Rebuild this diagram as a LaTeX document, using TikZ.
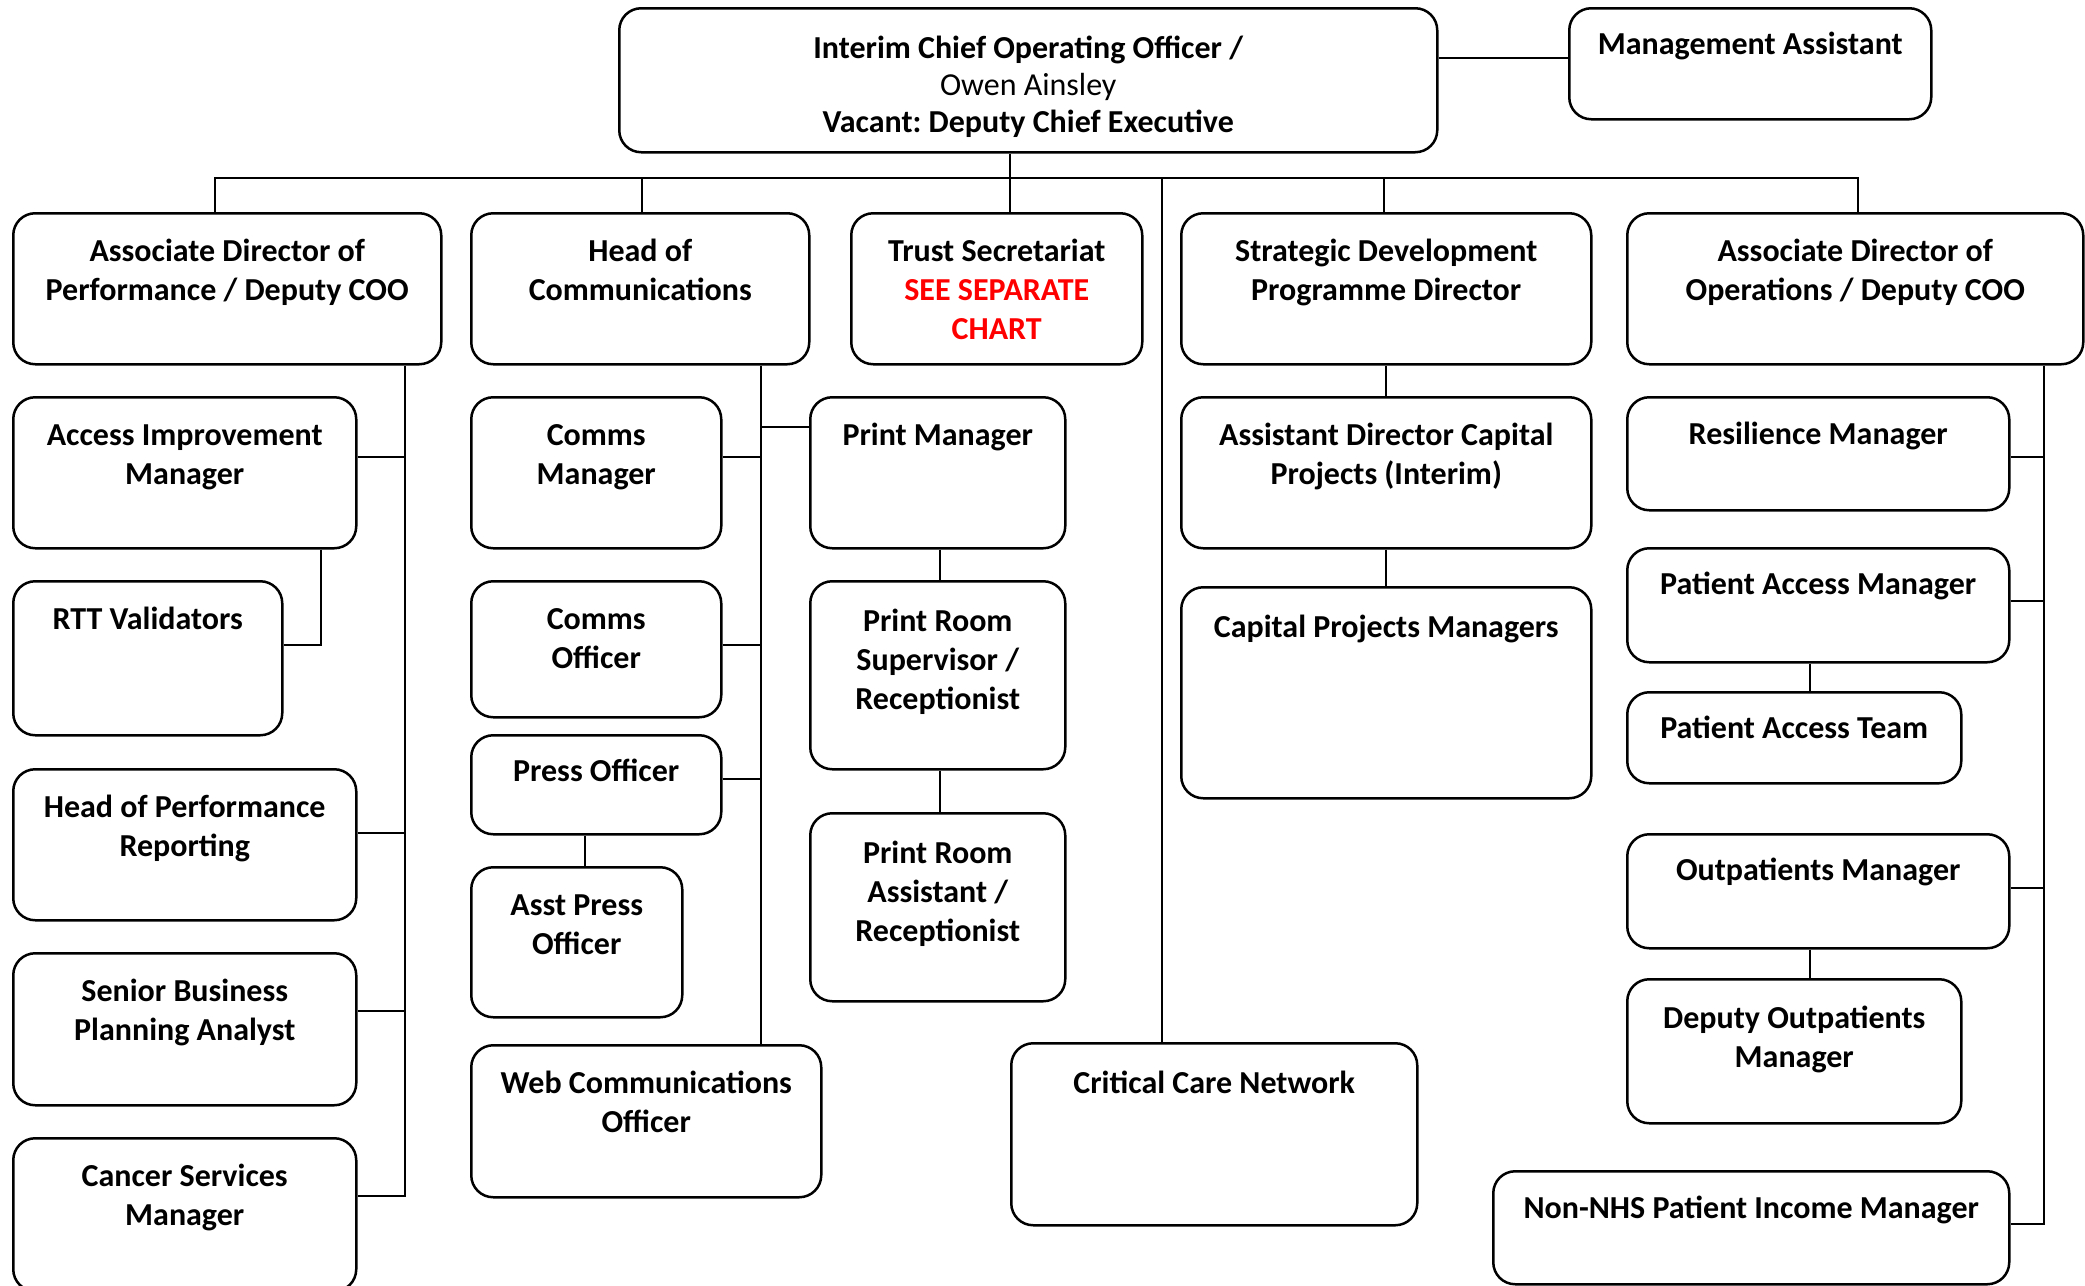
\documentclass[tikz,border=0pt]{standalone}
\usepackage{fontspec}
\setmainfont{Carlito}
\frenchspacing
\tikzset{
  orgbox/.style={draw=black, line width=2.5pt, rounded corners=22pt, inner sep=0pt, fill=white,
    font=\fontsize{32}{39}\selectfont\bfseries},
  conn/.style={draw=black, line width=2pt},
}
% \mkbox[first-baseline offset]{name}{left}{top}{right}{bottom}{text}
\newcommand\mkbox[7][48]{%
  \node[orgbox, anchor=north west, text height=#1pt, text depth={#6pt-#4pt-#1pt}] (#2) at (#3,#4)
   {\parbox[t]{\dimexpr#5pt-#3pt\relax}{\centering #7}};}
\begin{document}
\begin{tikzpicture}[x=1pt,y=-1pt]
\useasboundingbox (0,0) rectangle (2085,1285);
\clip (0,0) rectangle (2085,1285);
% top
\node[orgbox, anchor=north west, text height=50pt, text depth={144pt-50pt},
  font=\fontsize{32}{37}\selectfont\bfseries] (ceo) at (618,7)
  {\parbox[t]{818pt}{\centering Interim Chief Operating Officer /\\{\mdseries Owen Ainsley}\\Vacant: Deputy Chief Executive}};
\mkbox[46]{ma}{1568}{7}{1930}{118}{Management Assistant}
% level 2
\mkbox{perf}{12}{212}{440}{363}{Associate Director of\\Performance / Deputy COO}
\mkbox{hoc}{470}{212}{808}{363}{Head of\\Communications}
\mkbox{trust}{850}{212}{1141}{363}{Trust Secretariat\\\textcolor{red}{SEE SEPARATE}\\\textcolor{red}{CHART}}
\mkbox{strat}{1180}{212}{1590}{363}{Strategic Development\\Programme Director}
\mkbox{ops}{1626}{212}{2082}{363}{Associate Director of\\Operations / Deputy COO}
% performance column
\mkbox{aim}{12}{396}{355}{547}{Access Improvement\\Manager}
\mkbox{rtt}{12}{580}{281}{734}{RTT Validators}
\mkbox{hpr}{12}{768}{355}{919}{Head of Performance\\Reporting}
\mkbox{sbpa}{12}{952}{355}{1104}{Senior Business\\Planning Analyst}
\mkbox{csm}{12}{1137}{355}{1290}{Cancer Services\\Manager}
% communications column
\mkbox{cm}{470}{396}{720}{547}{Comms\\Manager}
\mkbox{co}{470}{580}{720}{716}{Comms\\Officer}
\mkbox[46]{po}{470}{734}{720}{833}{Press Officer}
\mkbox{apo}{470}{866}{681}{1016}{Asst Press\\Officer}
\mkbox{web}{470}{1044}{820}{1196}{Web Communications\\Officer}
\mkbox{pm}{809}{396}{1064}{547}{Print Manager}
\mkbox[50]{prs}{809}{580}{1064}{768}{Print Room\\Supervisor /\\Receptionist}
\mkbox[50]{pra}{809}{812}{1064}{1000}{Print Room\\Assistant /\\Receptionist}
% strategic column
\mkbox{adcp}{1180}{396}{1590}{547}{Assistant Director Capital\\Projects (Interim)}
\mkbox[50]{cpm}{1180}{586}{1590}{797}{Capital Projects Managers}
\mkbox[50]{crit}{1010}{1042}{1416}{1224}{Critical Care Network}
% operations column
\mkbox[47]{res}{1626}{396}{2008}{509}{Resilience Manager}
\mkbox[46]{pam}{1626}{547}{2008}{661}{Patient Access Manager}
\mkbox[46]{pat}{1626}{691}{1960}{782}{Patient Access Team}
\mkbox[46]{om}{1626}{833}{2008}{947}{Outpatients Manager}
\mkbox[49]{dom}{1626}{978}{1960}{1122}{Deputy Outpatients\\Manager}
\mkbox[47]{nonnhs}{1492}{1170}{2008}{1283}{Non-NHS Patient Income Manager}
% connectors: top
\draw[conn] (ceo.east |- 0,58) -- (ma.west |- 0,58);
\draw[conn] (ceo.south -| 1010,0) -- (trust.north -| 1010,0);
\draw[conn] (perf.north -| 215,0) -- (215,178) -- (1858,178) -- (ops.north -| 1858,0);
\draw[conn] (hoc.north -| 642,0) -- (642,178);
\draw[conn] (strat.north -| 1384,0) -- (1384,178);
\draw[conn] (crit.north -| 1162,0) -- (1162,178);
% performance
\draw[conn] (perf.south -| 405,0) -- (405,1196) -- (csm.east |- 0,1196);
\draw[conn] (aim.east |- 0,457) -- (405,457);
\draw[conn] (hpr.east |- 0,833) -- (405,833);
\draw[conn] (sbpa.east |- 0,1011) -- (405,1011);
\draw[conn] (aim.south -| 321,0) |- (rtt.east |- 0,645);
% communications
\draw[conn] (hoc.south -| 761,0) -- (web.north -| 761,0);
\draw[conn] (cm.east |- 0,457) -- (761,457);
\draw[conn] (761,427) -- (pm.west |- 0,427);
\draw[conn] (co.east |- 0,645) -- (761,645);
\draw[conn] (po.east |- 0,779) -- (761,779);
\draw[conn] (po.south -| 585,0) -- (apo.north -| 585,0);
\draw[conn] (pm.south -| 940,0) -- (prs.north -| 940,0);
\draw[conn] (prs.south -| 940,0) -- (pra.north -| 940,0);
% strategic
\draw[conn] (strat.south) -- (adcp.north);
\draw[conn] (adcp.south) -- (cpm.north);
% operations
\draw[conn] (ops.south -| 2044,0) -- (2044,1224) -- (nonnhs.east |- 0,1224);
\draw[conn] (res.east |- 0,457) -- (2044,457);
\draw[conn] (pam.east |- 0,601) -- (2044,601);
\draw[conn] (om.east |- 0,888) -- (2044,888);
\draw[conn] (pam.south -| 1810,0) -- (pat.north -| 1810,0);
\draw[conn] (om.south -| 1810,0) -- (dom.north -| 1810,0);
\end{tikzpicture}
\end{document}
